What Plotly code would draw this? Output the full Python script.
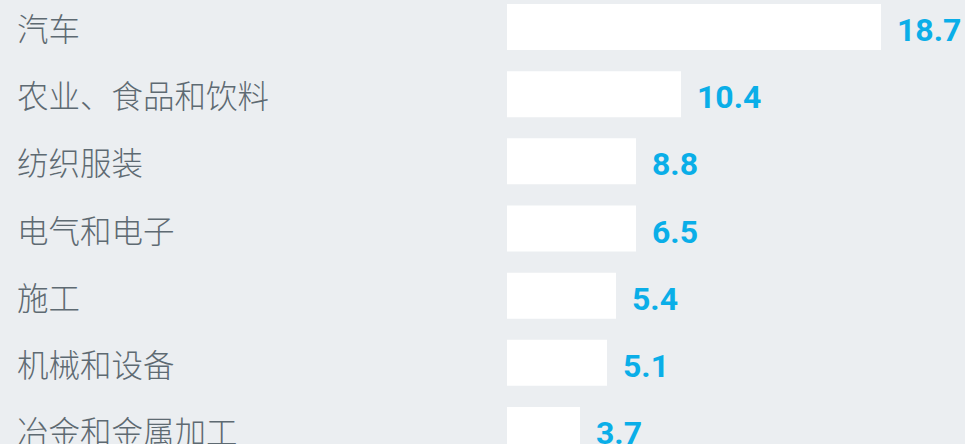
import plotly.graph_objects as go

categories = ["汽车", "农业、食品和饮料", "纺织服装", "电气和电子", "施工", "机械和设备", "冶金和金属加工"]
bar_lengths = [18.7, 8.7, 6.45, 6.45, 5.45, 5.0, 3.65]
value_labels = ["18.7", "10.4", "8.8", "6.5", "5.4", "5.1", "3.7"]

BG = "#EBEEF1"
LABEL_COLOR = "#5E6A72"
VALUE_COLOR = "#0AAEE8"

W, H = 965, 444
px_per_unit = 20.0
x0_px = 507
row_pitch = 67.17
first_center = 27.0

ypos = list(range(len(categories)))

fig = go.Figure()
fig.add_trace(go.Bar(
    x=bar_lengths, y=ypos, orientation="h",
    marker=dict(color="white", line=dict(width=0)),
    width=46 / row_pitch, hoverinfo="skip",
))

annotations = []
for i, (cat, val, lab) in enumerate(zip(categories, bar_lengths, value_labels)):
    annotations.append(dict(
        xref="paper", yref="y", x=15 / W, y=i, xanchor="left", yanchor="middle",
        text=cat, showarrow=False, yshift=0,
        font=dict(family="Noto Sans CJK SC", size=31.5, color=LABEL_COLOR, weight=300),
    ))
    annotations.append(dict(
        xref="x", yref="y", x=val, y=i, xanchor="left", yanchor="middle",
        text=lab, showarrow=False, xshift=14, yshift=-3,
        font=dict(family="Roboto", size=32, color=VALUE_COLOR, weight="bold"),
    ))

fig.update_layout(
    width=W, height=H,
    margin=dict(l=0, r=0, t=0, b=0, pad=0),
    paper_bgcolor=BG, plot_bgcolor=BG,
    showlegend=False,
    annotations=annotations,
    xaxis=dict(range=[-x0_px / px_per_unit, (W - x0_px) / px_per_unit],
               visible=False, fixedrange=True),
    yaxis=dict(range=[(H - first_center) / row_pitch, -first_center / row_pitch],
               visible=False, fixedrange=True),
)

fig.write_html(
    "out.html",
    config={"displayModeBar": False},
    post_script="document.body.style.margin='0';document.body.style.background='" + BG + "';",
)
